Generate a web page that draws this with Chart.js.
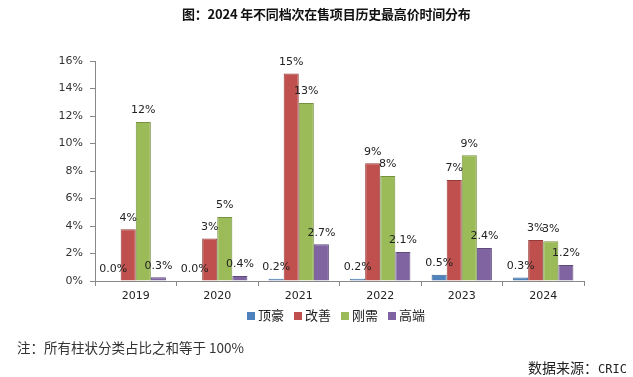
<!DOCTYPE html>
<html>
<head>
<meta charset="utf-8">
<script src="https://cdn.jsdelivr.net/npm/chart.js@4.4.1/dist/chart.umd.min.js"></script>
<style>
    html, body { margin: 0; padding: 0; background: #fff; }
    #wrap { position: relative; width: 633px; height: 377px; overflow: hidden; }
    #chart { position: absolute; left: 0; top: 0; }
    .txt { position: absolute; white-space: nowrap; font-family: "Noto Sans CJK SC", sans-serif; }
    #title { left: 182px; top: 4px; font-size: 13px; font-weight: bold; color: #111; letter-spacing: -0.2px; }
    #legend { left: 247px; top: 305px; font-size: 13px; color: #222; display: flex; gap: 10px; }
    #legend span.box { display: inline-block; width: 8px; height: 8px; margin-right: 3px; vertical-align: 0px; }
    #note { left: 17px; top: 337px; font-size: 13.5px; color: #333; }
    #source { right: 6px; top: 357px; font-size: 14px; color: #222; }
    #source .mono { font-family: "DejaVu Sans Mono", monospace; font-size: 12px; }
</style>
</head>
<body>
<div id="wrap">
    <canvas id="chart" width="633" height="377"></canvas>
    <div class="txt" id="title">图：2024 年不同档次在售项目历史最高价时间分布</div>
    <div class="txt" id="legend"></div>
    <div class="txt" id="note">注：所有柱状分类占比之和等于 100%</div>
    <div class="txt" id="source">数据来源：<span class="mono">CRIC</span></div>
</div>
<script>
// 年份
const years = ["2019", "2020", "2021", "2022", "2023", "2024"];

// 各档次占比 (%)
const dinghao = [0.04, 0.03, 0.17, 0.17, 0.45, 0.25];   // 顶豪
const gaishan = [3.76, 3.10, 15.1, 8.56, 7.35, 2.98];   // 改善
const gangxu = [11.56, 4.65, 12.95, 7.64, 9.14, 2.90];  // 刚需
const gaoduan = [0.27, 0.36, 2.67, 2.11, 2.40, 1.16];   // 高端

// 刻度
const yTicks = [0, 2, 4, 6, 8, 10, 12, 14, 16];

const seriesNames = ["顶豪", "改善", "刚需", "高端"];
const seriesColors = ["#4F81BD", "#C0504D", "#9BBB59", "#8064A2"];
const seriesBorders = ["#3B6491", "#943B39", "#76913F", "#5F4A7C"];
const seriesDecimals = [1, 0, 0, 1];

// Legenda in HTML
const legendEl = document.getElementById("legend");
seriesNames.forEach((name, i) => {
    const item = document.createElement("span");
    item.innerHTML = `<span class="box" style="background:${seriesColors[i]}"></span>${name}`;
    legendEl.appendChild(item);
});

// Etichette sopra le barre
const barLabels = {
    id: "barLabels",
    afterDatasetsDraw(chart) {
        const ctx = chart.ctx;
        ctx.save();
        ctx.font = "11px 'DejaVu Sans', sans-serif";
        ctx.fillStyle = "#222";
        ctx.textAlign = "center";
        ctx.textBaseline = "bottom";
        chart.data.datasets.forEach((ds, di) => {
            const meta = chart.getDatasetMeta(di);
            meta.data.forEach((bar, i) => {
                const v = ds.data[i];
                ctx.fillText(v.toFixed(seriesDecimals[di]) + "%", bar.x, bar.y - 6);
            });
        });
        ctx.restore();
    }
};

const allData = [dinghao, gaishan, gangxu, gaoduan];

new Chart(document.getElementById("chart").getContext("2d"), {
    type: "bar",
    data: {
        labels: years,
        datasets: allData.map((d, i) => ({
            label: seriesNames[i],
            data: d,
            backgroundColor: seriesColors[i],
            borderColor: seriesBorders[i],
            borderWidth: 1,
            barPercentage: 1,
            categoryPercentage: 0.74
        }))
    },
    options: {
        responsive: false,
        animation: false,
        layout: { padding: { top: 61, right: 49, bottom: 0, left: 0 } },
        plugins: {
            legend: { display: false },
            title: { display: false },
            tooltip: { enabled: false }
        },
        scales: {
            x: {
                afterFit(scale) { scale.height = 96; },
                grid: { drawOnChartArea: false, drawTicks: true, tickLength: 5, color: "#888", offset: true },
                border: { color: "#888" },
                ticks: { color: "#222", font: { family: "'DejaVu Sans', sans-serif", size: 11 }, padding: 4 }
            },
            y: {
                min: 0,
                max: 16,
                afterFit(scale) { scale.width = 95; },
                afterBuildTicks(scale) { scale.ticks = yTicks.map(v => ({ value: v })); },
                grid: { drawOnChartArea: false, drawTicks: true, tickLength: 5, color: "#888" },
                border: { color: "#888" },
                ticks: {
                    color: "#333",
                    font: { family: "'DejaVu Sans', sans-serif", size: 11 },
                    padding: 7,
                    callback: v => v + "%"
                }
            }
        }
    },
    plugins: [barLabels]
});
</script>
</body>
</html>
